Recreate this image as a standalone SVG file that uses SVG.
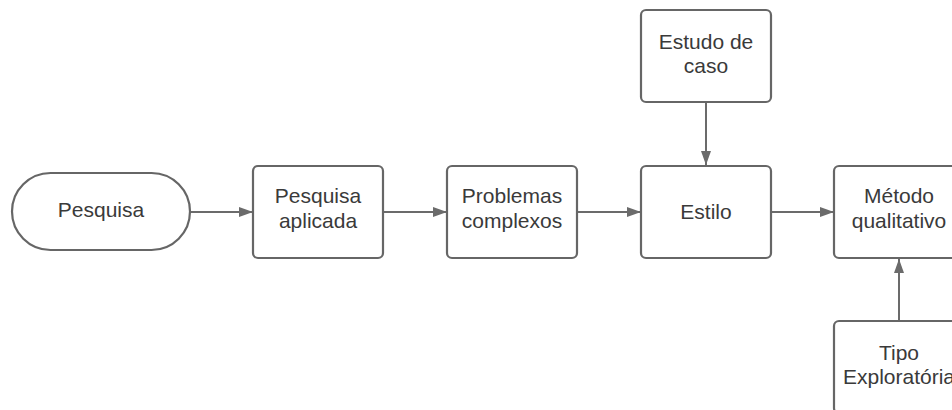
<svg xmlns="http://www.w3.org/2000/svg" width="952" height="410" viewBox="0 0 952 410">
<style>
.box{fill:#ffffff;stroke:#666666;stroke-width:2.2}
.lbl{font-family:"Liberation Sans",Arial,sans-serif;font-size:21px;fill:#3a3a3a;text-anchor:middle}
.con{stroke:#6b6b6b;stroke-width:2;fill:none;marker-end:url(#ah)}
</style>
<defs>
<marker id="ah" viewBox="0 0 14 10" refX="14" refY="5" markerWidth="14" markerHeight="10" markerUnits="userSpaceOnUse" orient="auto">
<path d="M0,0 L14,5 L0,10 Z" fill="#6b6b6b"/>
</marker>
</defs>
<rect width="952" height="410" fill="#ffffff"/>
<g id="connectors">
<line class="con" x1="190" y1="212" x2="253" y2="212"/>
<line class="con" x1="383" y1="212" x2="447" y2="212"/>
<line class="con" x1="577" y1="212" x2="641" y2="212"/>
<line class="con" x1="771" y1="212" x2="834" y2="212"/>
<line class="con" x1="706" y1="102" x2="706" y2="165"/>
<line class="con" x1="899" y1="321" x2="899" y2="259"/>
</g>
<g id="n-pesquisa">
<rect class="box" x="12" y="173" width="178" height="77" rx="38.5"/>
<text class="lbl" x="101" y="217">Pesquisa</text>
</g>
<g id="n-aplicada">
<rect class="box" x="253" y="166" width="130" height="92" rx="5"/>
<text class="lbl" x="318" y="203">Pesquisa</text>
<text class="lbl" x="318" y="228">aplicada</text>
</g>
<g id="n-problemas">
<rect class="box" x="447" y="166" width="130" height="92" rx="5"/>
<text class="lbl" x="512" y="203">Problemas</text>
<text class="lbl" x="512" y="228">complexos</text>
</g>
<g id="n-estilo">
<rect class="box" x="641" y="166" width="130" height="92" rx="5"/>
<text class="lbl" x="706" y="219">Estilo</text>
</g>
<g id="n-estudo">
<rect class="box" x="641" y="10" width="130" height="92" rx="5"/>
<text class="lbl" x="706" y="49">Estudo de</text>
<text class="lbl" x="706" y="73">caso</text>
</g>
<g id="n-metodo">
<rect class="box" x="834" y="166" width="130" height="92" rx="5"/>
<text class="lbl" x="899" y="203">Método</text>
<text class="lbl" x="899" y="228">qualitativo</text>
</g>
<g id="n-tipo">
<rect class="box" x="834" y="321" width="130" height="92" rx="5"/>
<text class="lbl" x="899" y="360">Tipo</text>
<text class="lbl" x="899" y="384">Exploratória</text>
</g>
</svg>
